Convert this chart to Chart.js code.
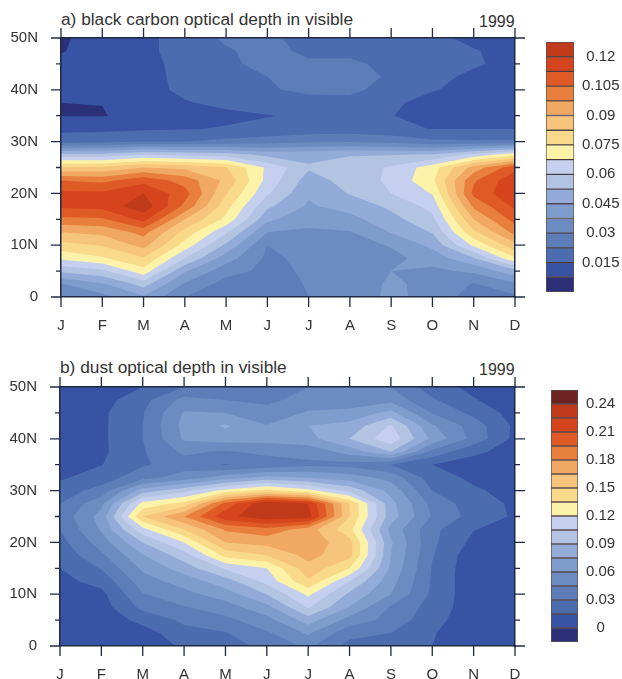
<!DOCTYPE html>
<html lang="en">
<head>
<meta charset="UTF-8">
<title>Optical depth 1999</title>
<script src="https://cdn.jsdelivr.net/npm/chart.js@4/dist/chart.umd.min.js"></script>
<style>
    html, body { margin: 0; padding: 0; background: #fff; overflow: hidden; }
    body { width: 622px; height: 679px; position: relative; font-family: "Liberation Sans", Arial, sans-serif; color: #333; }
    canvas { position: absolute; }
    .lbl { position: absolute; font-size: 17.3px; line-height: 18px; white-space: nowrap; }
    .yr { font-size: 16px; }
</style>
</head>
<body>
<div class="lbl" style="left:61px;top:10px">a) black carbon optical depth in visible</div>
<div class="lbl yr" style="left:479px;top:13px">1999</div>
<div class="lbl" style="left:60px;top:358px">b) dust optical depth in visible</div>
<div class="lbl yr" style="left:479px;top:361px">1999</div>
<canvas id="bc" width="540" height="335" style="left:0;top:0"></canvas>
<canvas id="bcBar" width="76" height="290" style="left:546px;top:22px"></canvas>
<canvas id="dust" width="540" height="330" style="left:0;top:349px"></canvas>
<canvas id="dustBar" width="71" height="292" style="left:551px;top:370px"></canvas>
<script>
const months = ['J', 'F', 'M', 'A', 'M', 'J', 'J', 'A', 'S', 'O', 'N', 'D'];
const latitudes = [50, 47.5, 45, 42.5, 40, 37.5, 35, 32.5, 30, 27.5, 25, 22.5, 20, 17.5, 15, 12.5, 10, 7.5, 5, 2.5, 0];

const bcLevels = [0.0075, 0.015, 0.0225, 0.03, 0.0375, 0.045, 0.0525, 0.06, 0.0675, 0.075, 0.0825, 0.09, 0.0975, 0.105, 0.1125, 0.12];
const bcTickLevels = [0.015, 0.03, 0.045, 0.06, 0.075, 0.09, 0.105, 0.12];
const dustLevels = [0, 0.015, 0.03, 0.045, 0.06, 0.075, 0.09, 0.105, 0.12, 0.135, 0.15, 0.165, 0.18, 0.195, 0.21, 0.225, 0.24];
const dustTickLevels = [0, 0.03, 0.06, 0.09, 0.12, 0.15, 0.18, 0.21, 0.24];

// black carbon, one row per latitude (50N first), one value per month
const bcDepth = [
    [.006, .012, .0135, .0175, .024, .024, .020, .0195, .0175, .017, .013, .0072],
    [.007, .011, .0135, .0175, .0215, .0255, .0205, .0205, .019, .018, .0155, .0125],
    [.0095, .0105, .013, .017, .0215, .024, .024, .024, .0205, .0185, .0158, .013],
    [.009, .010, .0125, .017, .0205, .0225, .0255, .0255, .0215, .017, .0135, .012],
    [.0085, .0095, .0125, .0165, .019, .0215, .0245, .0245, .019, .0155, .0125, .011],
    [.0075, .0076, .0095, .0145, .0165, .0175, .019, .0195, .0165, .012, .0115, .0105],
    [.0072, .0072, .0095, .0125, .0135, .0148, .0158, .0165, .0152, .0125, .0105, .0105],
    [.013, .0132, .014, .0145, .0155, .0165, .0175, .0178, .0165, .0148, .0148, .0148],
    [.0195, .02, .0225, .0225, .0245, .0265, .029, .0295, .028, .024, .0235, .024],
    [.055, .055, .06, .058, .056, .05, .05, .052, .052, .053, .062, .072],
    [.083, .084, .09, .088, .083, .066, .0535, .056, .061, .0715, .093, .11],
    [.105, .103, .11, .102, .088, .065, .049, .0555, .0615, .0735, .104, .118],
    [.1145, .114, .12, .108, .083, .061, .046, .053, .06, .068, .107, .119],
    [.114, .115, .125, .103, .078, .054, .044, .048, .054, .0625, .099, .114],
    [.103, .104, .115, .09, .073, .047, .0395, .0425, .05, .058, .09, .108],
    [.09, .092, .10, .08, .061, .0375, .0365, .037, .0455, .053, .081, .10],
    [.08, .083, .0925, .072, .051, .03, .0345, .035, .038, .047, .069, .0875],
    [.069, .074, .082, .06, .041, .0285, .032, .034, .0355, .0405, .052, .074],
    [.054, .058, .072, .046, .033, .028, .031, .033, .0375, .036, .039, .05],
    [.037, .044, .0555, .0365, .027, .027, .0305, .032, .039, .035, .0295, .036],
    [.032, .035, .044, .03, .024, .026, .03, .031, .04, .034, .027, .0285]
];

// dust, same layout
const dustDepth = [
    [.005, .005, .015, .03, .035, .04, .045, .045, .045, .022, .011, .006],
    [.005, .009, .025, .05, .045, .042, .05, .05, .055, .032, .016, .007],
    [.005, .012, .029, .0615, .06, .05, .062, .065, .08, .044, .026, .009],
    [.006, .012, .03, .065, .077, .061, .075, .08, .107, .062, .038, .012],
    [.006, .012, .03, .062, .067, .065, .07, .09, .115, .071, .04, .011],
    [.007, .012, .0285, .048, .043, .05, .05, .066, .09, .04, .018, .009],
    [.008, .0145, .028, .038, .029, .034, .042, .04, .03, .015, .009, .007],
    [.013, .022, .04, .052, .068, .08, .075, .068, .055, .022, .012, .008],
    [.0215, .036, .082, .10, .125, .14, .125, .10, .07, .03, .017, .01],
    [.03, .056, .125, .14, .2, .238, .225, .15, .08, .04, .022, .0125],
    [.035, .066, .15, .18, .22, .236, .232, .15, .082, .044, .024, .013],
    [.03, .062, .115, .15, .182, .19, .172, .14, .07, .034, .0155, .01],
    [.025, .052, .09, .12, .165, .17, .175, .155, .077, .033, .011, .008],
    [.02, .042, .074, .098, .14, .15, .17, .155, .075, .031, .005, .004],
    [.015, .031, .063, .082, .107, .12, .16, .135, .072, .029, .004, .004],
    [.011, .02, .053, .067, .083, .11, .148, .105, .066, .028, .004, .004],
    [.009, .011, .044, .055, .068, .09, .123, .087, .06, .027, .005, .004],
    [.006, .008, .034, .044, .053, .07, .107, .074, .043, .024, .006, .004],
    [.005, .005, .02, .033, .041, .055, .082, .054, .04, .02, .006, .004],
    [.004, .004, .008, .025, .029, .043, .062, .035, .03, .016, .006, .004],
    [.003, .003, .004, .018, .0255, .033, .048, .025, .023, .015, .006, .004]
];

const palette = ['#2c3078', '#3953a4', '#4c6cb0', '#5c7db8', '#6c8bc0', '#7e9ccc', '#92abd8', '#b3c4e3', '#c5d0ee',
    '#fdf3a8', '#f9d98a', '#f6c47a', '#f0a862', '#e87f3c', '#df5a24', '#d5441c', '#c03a1a', '#6e2420'];
const bcColors = palette.slice(0, 17);
const dustColors = palette.slice(0, 18);
const inkColor = '#1f2a44';
const textColor = '#333';

// part of a polygon where v >= t, edges cut linearly
function clipAbove(poly, t) {
    const out = [];
    for (let i = 0; i < poly.length; i++) {
        const a = poly[i], b = poly[(i + 1) % poly.length];
        if (a.v >= t) out.push(a);
        if ((a.v >= t) !== (b.v >= t)) {
            const f = (t - a.v) / (b.v - a.v);
            out.push({ x: a.x + f * (b.x - a.x), y: a.y + f * (b.y - a.y), v: t });
        }
    }
    return out;
}

const contourFill = {
    id: 'contourFill',
    beforeDatasetsDraw(chart, args, opts) {
        const { ctx, chartArea, scales } = chart;
        const xs = months.map((m, i) => scales.x.getPixelForValue(i));
        const ys = latitudes.map(l => scales.y.getPixelForValue(l));
        const rows = opts.rows;
        ctx.save();
        ctx.fillStyle = opts.colors[0];
        ctx.fillRect(chartArea.left, chartArea.top, chartArea.width, chartArea.height);
        opts.levels.forEach((t, k) => {
            ctx.beginPath();
            for (let r = 0; r < ys.length - 1; r++) {
                for (let c = 0; c < xs.length - 1; c++) {
                    const poly = clipAbove([
                        { x: xs[c], y: ys[r], v: rows[r][c] },
                        { x: xs[c + 1], y: ys[r], v: rows[r][c + 1] },
                        { x: xs[c + 1], y: ys[r + 1], v: rows[r + 1][c + 1] },
                        { x: xs[c], y: ys[r + 1], v: rows[r + 1][c] }
                    ], t);
                    if (poly.length < 3) continue;
                    ctx.moveTo(poly[0].x, poly[0].y);
                    poly.slice(1).forEach(p => ctx.lineTo(p.x, p.y));
                    ctx.closePath();
                }
            }
            ctx.fillStyle = opts.colors[k + 1];
            ctx.fill();
        });
        ctx.restore();
    },
    // outward tick marks on all four sides, every second one on the y axes is short
    afterDatasetsDraw(chart) {
        const { ctx, chartArea: a, scales } = chart;
        ctx.save();
        ctx.strokeStyle = inkColor;
        ctx.lineWidth = 1.3;
        ctx.beginPath();
        months.forEach((m, i) => {
            const px = scales.x.getPixelForValue(i);
            ctx.moveTo(px, a.top); ctx.lineTo(px, a.top - 10);
            ctx.moveTo(px, a.bottom); ctx.lineTo(px, a.bottom + 10);
        });
        latitudes.filter(l => l % 5 === 0).forEach(l => {
            const py = scales.y.getPixelForValue(l);
            const len = l % 10 === 0 ? 10 : 5;
            ctx.moveTo(a.left, py); ctx.lineTo(a.left - len, py);
            ctx.moveTo(a.right, py); ctx.lineTo(a.right + len, py);
        });
        ctx.stroke();
        ctx.restore();
    }
};

function contourChart(id, rows, levels, colors, plotLeft, bottomRoom) {
    const points = [];
    rows.forEach((row, r) => row.forEach((v, c) => points.push({ x: c, y: latitudes[r], v })));
    const font = { family: '"Liberation Sans", Arial, sans-serif', size: 15 };
    const border = { display: true, color: inkColor, width: 1.5, z: 1 };
    return new Chart(document.getElementById(id), {
        type: 'scatter',
        data: { datasets: [{ data: points, pointRadius: 0, showLine: false }] },
        plugins: [contourFill],
        options: {
            responsive: false,
            animation: false,
            layout: { padding: 0 },
            plugins: {
                legend: { display: false },
                tooltip: { enabled: false },
                contourFill: { rows, levels, colors }
            },
            scales: {
                x: {
                    type: 'linear', position: 'bottom', min: 0, max: 11,
                    afterFit: s => { s.height = bottomRoom; },
                    border,
                    grid: { display: false },
                    ticks: {
                        stepSize: 1, padding: 12, maxRotation: 0, autoSkip: false,
                        color: textColor, font,
                        callback: v => months[v]
                    }
                },
                top: {
                    type: 'linear', position: 'top', min: 0, max: 11,
                    afterFit: s => { s.height = 38; },
                    border,
                    grid: { display: false },
                    ticks: { display: false }
                },
                y: {
                    type: 'linear', position: 'left', min: 0, max: 50,
                    afterFit: s => { s.width = plotLeft; },
                    border,
                    grid: { display: false },
                    ticks: {
                        stepSize: 5, padding: 15, autoSkip: false,
                        color: textColor, font,
                        callback: v => v % 10 !== 0 ? '' : (v === 0 ? '0' : v + 'N')
                    }
                },
                right: {
                    type: 'linear', position: 'right', min: 0, max: 50,
                    afterFit: s => { s.width = 25; },
                    border,
                    grid: { display: false },
                    ticks: { display: false }
                }
            }
        }
    });
}

function colorBar(id, levels, tickLevels, colors, labelRoom) {
    return new Chart(document.getElementById(id), {
        type: 'bar',
        data: {
            labels: [''],
            datasets: colors.map(c => ({
                data: [1], backgroundColor: c,
                borderColor: 'rgba(50,35,40,0.8)', borderWidth: 1, borderSkipped: false,
                barPercentage: 1, categoryPercentage: 1
            }))
        },
        options: {
            responsive: false,
            animation: false,
            layout: { padding: { top: 20, bottom: 20 } },
            plugins: { legend: { display: false }, tooltip: { enabled: false } },
            scales: {
                x: { stacked: true, display: false },
                y: {
                    stacked: true, position: 'right', min: 0, max: colors.length,
                    afterFit: s => { s.width = labelRoom; },
                    afterBuildTicks: s => { s.ticks = tickLevels.map(l => ({ value: levels.indexOf(l) + 1 })); },
                    border: { display: false },
                    grid: { display: false },
                    ticks: {
                        autoSkip: false, crossAlign: 'center', padding: 0,
                        color: textColor,
                        font: { family: '"Liberation Sans", Arial, sans-serif', size: 15 },
                        callback: v => String(levels[v - 1])
                    }
                }
            }
        }
    });
}

contourChart('bc', bcDepth, bcLevels, bcColors, 61, 38);
contourChart('dust', dustDepth, dustLevels, dustColors, 60, 33);
colorBar('bcBar', bcLevels, bcTickLevels, bcColors, 48);
colorBar('dustBar', dustLevels, dustTickLevels, dustColors, 44);
</script>
</body>
</html>
